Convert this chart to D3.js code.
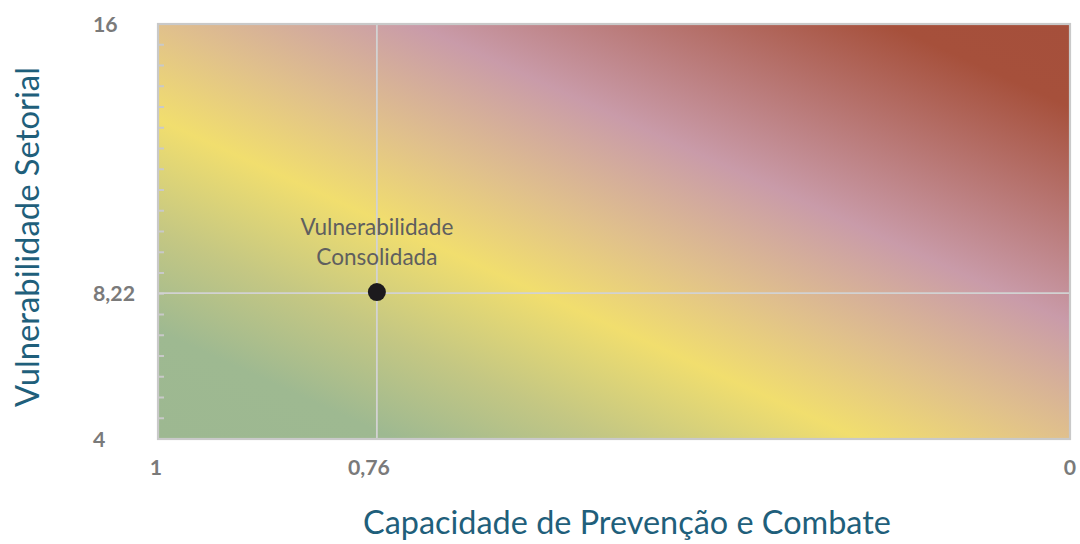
<!DOCTYPE html>
<html><head><meta charset="utf-8">
<script src="https://cdn.jsdelivr.net/npm/d3@7"></script>
<style>body{margin:0;background:#fff}svg{display:block}</style>
</head><body>
<svg id="c" width="1080" height="544"></svg>
<script>
// ---- data ----
const xDomain = [1, 0];
const yDomain = [4, 16];
const xTickValues = [1, 0.76, 0];
const xTickLabels = ["1", "0,76", "0"];
const yTickValues = [4, 8.22, 16];
const yTickLabels = ["4", "8,22", "16"];
const pointX = [0.76];
const pointY = [8.22];
const pointLabel = ["Vulnerabilidade", "Consolidada"];
const xTitle = "Capacidade de Prevenção e Combate";
const yTitle = "Vulnerabilidade Setorial";

// ---- styling ----
const gradStops = [
  [0.00, "#9db891"], [0.13, "#9eb991"], [0.25, "#c4c783"],
  [0.385, "#f1de6e"], [0.50, "#e0c08c"], [0.64, "#c99ba9"],
  [0.90, "#a6503b"], [1.00, "#a54f3b"]
];
const W = 1080, H = 544;
const m = {left: 158, right: 1070, top: 24, bottom: 439};
const font = "Lato, 'Open Sans', sans-serif";

const svg = d3.select("#c");
const x = d3.scaleLinear().domain(xDomain).range([m.left, m.right]);
const y = d3.scaleLinear().domain(yDomain).range([m.bottom, m.top]);

const defs = svg.append("defs");
const lg = defs.append("linearGradient").attr("id", "bg")
  .attr("x1", 0).attr("y1", 1).attr("x2", 1).attr("y2", 0);
lg.selectAll("stop").data(gradStops).join("stop")
  .attr("offset", d => d[0]).attr("stop-color", d => d[1]);

svg.append("rect").attr("x", m.left).attr("y", m.top)
  .attr("width", m.right - m.left).attr("height", m.bottom - m.top)
  .attr("fill", "url(#bg)");

// minor ticks on y axis (inside)
const minor = d3.range(yDomain[0], yDomain[1] + 1e-6, (yDomain[1] - yDomain[0]) / 20);
svg.append("g").selectAll("line").data(minor).join("line")
  .attr("x1", m.left).attr("x2", m.left + 6)
  .attr("y1", d => y(d)).attr("y2", d => y(d))
  .attr("stroke", "#c9c9c9").attr("stroke-width", 2);

// reference lines
svg.append("line").attr("x1", x(pointX[0])).attr("x2", x(pointX[0]))
  .attr("y1", m.top).attr("y2", m.bottom).attr("stroke", "#d2d2d2").attr("stroke-width", 1.8);
svg.append("line").attr("x1", m.left).attr("x2", m.right)
  .attr("y1", y(pointY[0])).attr("y2", y(pointY[0])).attr("stroke", "#d2d2d2").attr("stroke-width", 1.8);

// border
svg.append("rect").attr("x", m.left).attr("y", m.top)
  .attr("width", m.right - m.left).attr("height", m.bottom - m.top)
  .attr("fill", "none").attr("stroke", "#c9c9c9").attr("stroke-width", 2.2);

// y tick labels
const yLab = svg.append("g").selectAll("text").data(yTickValues).join("text")
  .attr("x", 93).attr("y", d => y(d)).attr("dy", "0.36em")
  .attr("font-family", font).attr("font-weight", "bold").attr("font-size", 17)
  .attr("fill", "#7a7a7a").text((d, i) => yTickLabels[i]);

// x tick labels
const xLab = svg.append("g").selectAll("text").data(xTickValues).join("text")
  .attr("x", (d, i) => x(d) + (i === 1 ? -8 : (i === 0 ? -2 : 0)))
  .attr("y", 467).attr("dy", "0.36em").attr("text-anchor", "middle")
  .attr("font-family", font).attr("font-weight", "bold").attr("font-size", 17)
  .attr("fill", "#7a7a7a").text((d, i) => xTickLabels[i]);

// point
svg.append("g").selectAll("circle").data(pointX).join("circle")
  .attr("cx", d => x(d)).attr("cy", (d, i) => y(pointY[i]) - 1).attr("r", 9)
  .attr("fill", "#1c1a1d");

// point label
svg.append("g").selectAll("text").data(pointLabel).join("text")
  .attr("x", x(pointX[0])).attr("y", (d, i) => 227 + i * 30).attr("dy", "0.35em")
  .attr("text-anchor", "middle").attr("font-family", font).attr("font-size", 19)
  .attr("fill", "#5f5f5f").text(d => d);

// axis titles
svg.append("text").attr("x", 627).attr("y", 523).attr("dy", "0.35em")
  .attr("text-anchor", "middle").attr("font-family", font).attr("font-size", 30)
  .attr("fill", "#1f5f7b").text(xTitle);
svg.append("text").attr("transform", `translate(27,237) rotate(-90)`).attr("dy", "0.35em")
  .attr("text-anchor", "middle").attr("font-family", font).attr("font-size", 30)
  .attr("fill", "#1f5f7b").text(yTitle);

// fit text widths to the reference
function fit(sel, target) {
  const n = sel.node(); const fs = +sel.attr("font-size");
  const w = n.getComputedTextLength(); sel.attr("font-size", fs * target / w);
}
svg.selectAll("text").filter(function(){return this.textContent===xTitle;}).call(s => fit(s, 528));
svg.selectAll("text").filter(function(){return this.textContent===yTitle;}).call(s => fit(s, 340));
svg.selectAll("text").filter(function(){return this.textContent===pointLabel[0];}).each(function(){
  const s = d3.select(this); const fs = +s.attr("font-size"); const w = this.getComputedTextLength();
  const nf = fs * 153 / w; svg.selectAll("text").filter(function(){return pointLabel.includes(this.textContent);}).attr("font-size", nf);
});
{
  const n = yLab.filter((d, i) => i === 1).node();
  const nf = 17 * 42 / n.getComputedTextLength();
  yLab.attr("font-size", nf); xLab.attr("font-size", nf);
}
</script>
</body></html>
